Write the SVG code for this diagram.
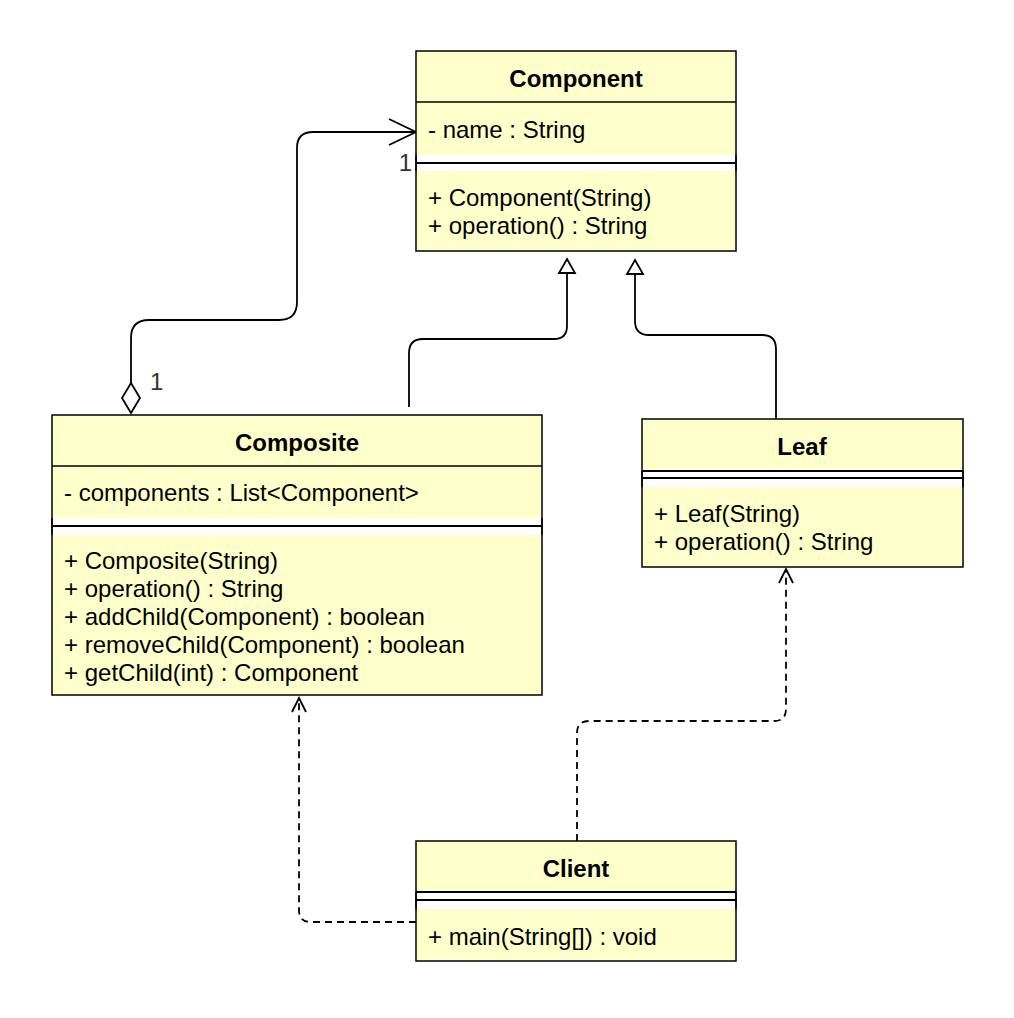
<svg xmlns="http://www.w3.org/2000/svg" width="1014" height="1018" viewBox="0 0 1014 1018">
<style>
.box{fill:#FFFFCC;stroke:#000;stroke-width:1.5}
.gap{fill:#fff;stroke:none}
.sep{stroke:#000;stroke-width:2;fill:none}
.side{stroke:#000;stroke-width:1.5;fill:none}
.t{font-family:"Liberation Sans",Arial,sans-serif;font-size:24px;fill:#000}
.h{font-weight:bold;text-anchor:middle}
.lbl{fill:#333}
.ln{fill:none;stroke:#000;stroke-width:1.8}
.dash{stroke-dasharray:7 5}
</style>
<rect width="1014" height="1018" fill="#fff"/>
<g id="connectors">
  <!-- aggregation Composite -> Component -->
  <path class="ln" d="M131,383 V338 Q131,320 149,320 H279 Q297,320 297,302 V148 Q297,132 313,132 H415"/>
  <polygon points="131,383 140,398 131,413 122,398" fill="#fff" stroke="#000" stroke-width="1.8"/>
  <path class="ln" d="M389,119 L416,132 L389,145"/>
  <text class="t lbl" x="150" y="390">1</text>
  <text class="t lbl" x="412" y="171" text-anchor="end">1</text>
  <!-- generalization Composite -> Component -->
  <path class="ln" d="M409,407 V353 Q409,339 423,339 H554 Q567,339 567,326 V273"/>
  <polygon points="567,259 575,273 559,273" fill="#fff" stroke="#000" stroke-width="1.8"/>
  <!-- generalization Leaf -> Component -->
  <path class="ln" d="M776,419 V349 Q776,335 762,335 H649 Q635,335 635,321 V274"/>
  <polygon points="635,260 643,274 627,274" fill="#fff" stroke="#000" stroke-width="1.8"/>
  <!-- dependency Client -> Composite -->
  <path class="ln dash" d="M416,922 H311 Q299,922 299,910 V699"/>
  <path class="ln" d="M292,712 L299,698 L306,712"/>
  <!-- dependency Client -> Leaf -->
  <path class="ln dash" d="M577,841 V733 Q577,721 589,721 H774 Q786,721 786,709 V570"/>
  <path class="ln" d="M779,583 L786,569 L793,583"/>
</g>
<g id="component">
  <rect class="box" x="416" y="51" width="320" height="200"/>
  <line class="side" x1="416" y1="102" x2="736" y2="102"/>
  <rect class="gap" x="417" y="155" width="318" height="16"/>
  <line class="side" x1="416" y1="155" x2="416" y2="171"/>
  <line class="side" x1="736" y1="155" x2="736" y2="171"/>
  <line class="sep" x1="416" y1="163" x2="736" y2="163"/>
  <text class="t h" x="576" y="87">Component</text>
  <text class="t" x="428" y="138">- name : String</text>
  <text class="t" x="428" y="206">+ Component(String)</text>
  <text class="t" x="428" y="234">+ operation() : String</text>
</g>
<g id="composite">
  <rect class="box" x="52" y="415" width="490" height="280"/>
  <line class="side" x1="52" y1="466" x2="542" y2="466"/>
  <rect class="gap" x="53" y="518" width="488" height="17"/>
  <line class="side" x1="52" y1="518" x2="52" y2="535"/>
  <line class="side" x1="542" y1="518" x2="542" y2="535"/>
  <line class="sep" x1="52" y1="526" x2="542" y2="526"/>
  <text class="t h" x="297" y="451">Composite</text>
  <text class="t" x="64" y="501">- components : List&lt;Component&gt;</text>
  <text class="t" x="64" y="569">+ Composite(String)</text>
  <text class="t" x="64" y="597">+ operation() : String</text>
  <text class="t" x="64" y="625">+ addChild(Component) : boolean</text>
  <text class="t" x="64" y="653">+ removeChild(Component) : boolean</text>
  <text class="t" x="64" y="681">+ getChild(int) : Component</text>
</g>
<g id="leaf">
  <rect class="box" x="642" y="419" width="321" height="148"/>
  <rect class="gap" x="643" y="471" width="319" height="16"/>
  <line class="side" x1="642" y1="471" x2="642" y2="487"/>
  <line class="side" x1="963" y1="471" x2="963" y2="487"/>
  <line class="sep" x1="642" y1="471" x2="963" y2="471"/>
  <line class="sep" x1="642" y1="478" x2="963" y2="478"/>
  <text class="t h" x="802" y="455">Leaf</text>
  <text class="t" x="654" y="522">+ Leaf(String)</text>
  <text class="t" x="654" y="550">+ operation() : String</text>
</g>
<g id="client">
  <rect class="box" x="416" y="841" width="320" height="120"/>
  <rect class="gap" x="417" y="892" width="318" height="17"/>
  <line class="side" x1="416" y1="892" x2="416" y2="909"/>
  <line class="side" x1="736" y1="892" x2="736" y2="909"/>
  <line class="sep" x1="416" y1="892" x2="736" y2="892"/>
  <line class="sep" x1="416" y1="900" x2="736" y2="900"/>
  <text class="t h" x="576" y="877">Client</text>
  <text class="t" x="428" y="945">+ main(String[]) : void</text>
</g>
</svg>
